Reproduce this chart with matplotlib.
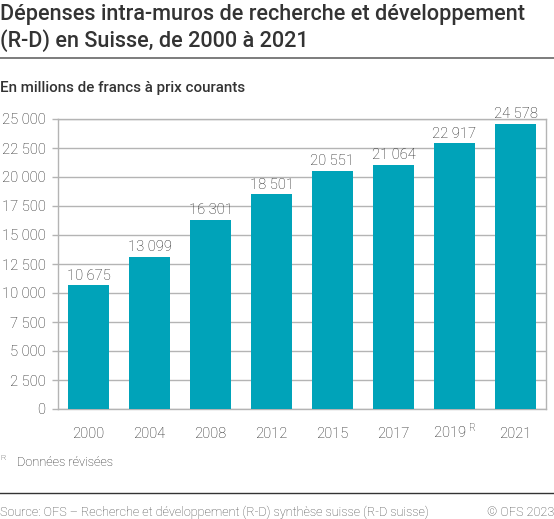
import matplotlib
matplotlib.use("Agg")
import matplotlib.pyplot as plt
import numpy as np

# Data
years = ["2000", "2004", "2008", "2012", "2015", "2017", "2019$^{\\ \\mathrm{R}}$", "2021"]
depenses = [10675, 13099, 16301, 18501, 20551, 21064, 22917, 24578]
y_ticks = [0, 2500, 5000, 7500, 10000, 12500, 15000, 17500, 20000, 22500, 25000]

W, H = 554, 519
BAR = "#00a3b9"
GRID = "#b4b4b4"
TXT = "#333333"
LIGHT_TXT = "#1e1e1e"

plt.rcParams["font.family"] = ["Roboto", "DejaVu Sans"]
plt.rcParams["mathtext.fontset"] = "custom"
plt.rcParams["mathtext.rm"] = "Roboto:light"


def fmt(v):
    return f"{v:,}".replace(",", " ")


def fx(px):
    return px / W


def fy(py):
    return 1 - py / H


AX_BOTTOM, AX_TOP = 409, 119
fig = plt.figure(figsize=(W / 100, H / 100), dpi=100)
ax = fig.add_axes([fx(58), fy(AX_BOTTOM), fx(546) - fx(58), fy(AX_TOP) - fy(AX_BOTTOM)])

x = np.arange(len(years))
ax.bar(x, depenses, width=0.66, color=BAR, zorder=3)
for xi, v in zip(x, depenses):
    ax.annotate(fmt(v), (xi, v), xytext=(0, 4), textcoords="offset points",
                ha="center", va="baseline", fontsize=10.6, color=LIGHT_TXT,
                fontweight="light", annotation_clip=False)

ax.set_xlim(-0.5, len(years) - 0.5)
ax.set_ylim(0, 25000)
ax.set_yticks(y_ticks)
ax.set_yticklabels([fmt(t) for t in y_ticks], fontsize=10.6, color=LIGHT_TXT, fontweight="light")
ax.tick_params(axis="y", length=4, color=GRID, width=1, pad=5)

# x labels on a common baseline (the superscript would otherwise push 2019 down)
ax.set_xticks([])
label_y = (AX_BOTTOM - 438) / (AX_BOTTOM - AX_TOP)
for xi, lab in zip(x, years):
    ax.text(xi, label_y, lab, transform=ax.get_xaxis_transform(), ha="center",
            va="baseline", fontsize=10.6, color=LIGHT_TXT, fontweight="light")

ax.grid(axis="y", color=GRID, linewidth=1, zorder=0)
for s in ax.spines.values():
    s.set_color(GRID)
    s.set_linewidth(1)

# titles
fig.text(fx(0), fy(20), "Dépenses intra-muros de recherche et développement",
         fontsize=15.6, color=TXT, fontweight="medium", va="baseline")
fig.text(fx(0), fy(47), "(R-D) en Suisse, de 2000 à 2021",
         fontsize=15.6, color=TXT, fontweight="medium", va="baseline")
fig.add_artist(plt.Line2D([0, 1], [fy(58), fy(58)], color="#666666", linewidth=1.2))
fig.text(fx(0), fy(92), "En millions de francs à prix courants",
         fontsize=10.9, color=TXT, fontweight="medium", va="baseline")

# footnote
fig.text(fx(0), fy(460), "R", fontsize=6, color=LIGHT_TXT, fontweight="light", va="baseline")
fig.text(fx(17), fy(466), "Données révisées", fontsize=9.2, color=LIGHT_TXT,
         fontweight="light", va="baseline")

# source
fig.add_artist(plt.Line2D([0, 1], [fy(493), fy(493)], color="#333333", linewidth=1))
fig.text(fx(0), fy(516), "Source: OFS – Recherche et développement (R-D) synthèse suisse (R-D suisse)",
         fontsize=9.1, color="#444444", fontweight="light", va="baseline")
fig.text(fx(554), fy(516), "© OFS 2023", fontsize=9.1, color="#444444",
         fontweight="light", va="baseline", ha="right")

fig.savefig("out.png", dpi=100)
